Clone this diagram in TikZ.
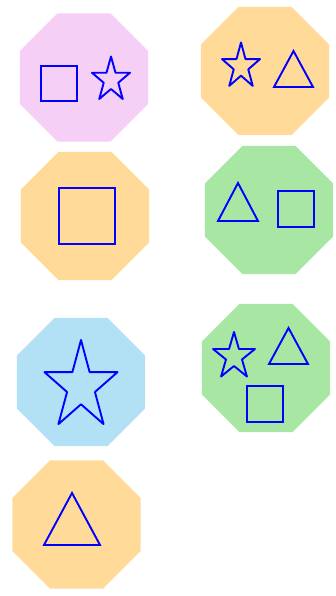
\documentclass[tikz,border=0pt]{standalone}
\usepackage{amsmath}
\usepackage{tikz}
\usetikzlibrary{shapes.geometric}
\definecolor{pinkfill}{HTML}{F6CFF6}
\definecolor{orangefill}{HTML}{FFDA99}
\definecolor{greenfill}{HTML}{A8E6A4}
\definecolor{bluefill}{HTML}{B2E1F6}
\tikzset{
  octa/.style={regular polygon,regular polygon sides=8,minimum size=138.6pt,inner sep=0pt,draw=none},
  shapeline/.style={draw=blue,line width=1.9pt},
  starpic/.pic={\draw[shapeline,line join=round] (90:1) \foreach \a in {0,72,...,288}{ -- (126+\a:0.382) -- (162+\a:1)} -- cycle;}
}

\begin{document}
\begin{tikzpicture}[x=1pt,y=-1pt]
\useasboundingbox (0,0) rectangle (336,596);
\node[octa,fill=pinkfill] (oct1) at (84,77.5) {};
\node[octa,fill=orangefill] (oct2) at (265,71) {};
\node[octa,fill=orangefill] (oct3) at (85,216) {};
\node[octa,fill=greenfill] (oct4) at (269,210) {};
\node[octa,fill=bluefill] (oct5) at (81,382) {};
\node[octa,fill=greenfill] (oct6) at (266,368) {};
\node[octa,fill=orangefill] (oct7) at (76.5,524.5) {};
\draw[shapeline] (41,66) rectangle (77,101);
\pic[xscale=20,yscale=-23.5] at (111,80) {starpic};
\pic[xscale=20,yscale=-24] at (241,66.5) {starpic};
\draw[shapeline] (274,87)--(293.5,51)--(313,87)--cycle;
\draw[shapeline] (59,188) rectangle (115,244);
\draw[shapeline] (218,221)--(238,183)--(258,221)--cycle;
\draw[shapeline] (278,191) rectangle (314,227);
\pic[xscale=38.4,yscale=-46.5] at (81,386.5) {starpic};
\pic[xscale=22,yscale=-24.6] at (234,356.6) {starpic};
\draw[shapeline] (269,364)--(288.5,328)--(308,364)--cycle;
\draw[shapeline] (247,386) rectangle (283,422);
\draw[shapeline] (44,545)--(72,493)--(100,545)--cycle;
\end{tikzpicture}
\end{document}
